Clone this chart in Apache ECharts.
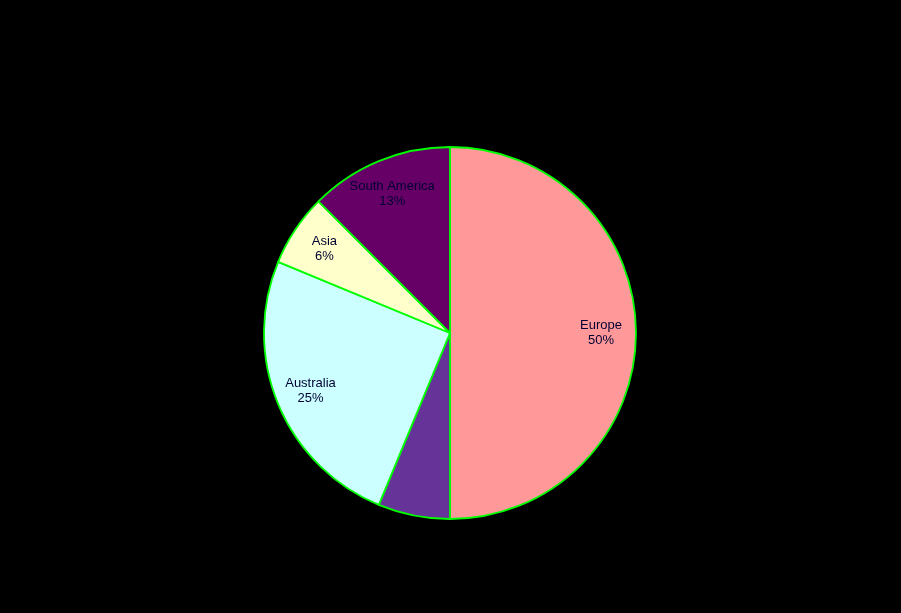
<!DOCTYPE html>
<html>
<head>
<meta charset="utf-8">
<script src="https://cdn.jsdelivr.net/npm/echarts@6/dist/echarts.min.js"></script>
<style>html,body{margin:0;padding:0;background:#000;}#c{width:901px;height:613px;}</style>
</head>
<body>
<div id="c"></div>
<script>
const categories = ['Europe', 'North America', 'Australia', 'Asia', 'South America'];
const values = [50, 6.25, 25, 6.25, 12.5];
const colors = ['#ff9999', '#663399', '#ccffff', '#ffffcc', '#660066'];
const showLabel = [true, false, true, true, true];

const chart = echarts.init(document.getElementById('c'));
const pieData = categories.map((n, i) => ({ name: n, value: values[i], itemStyle: { color: colors[i] } }));
const labelData = categories.map((n, i) => ({ name: n, value: values[i], label: { show: showLabel[i] } }));

chart.setOption({
  backgroundColor: '#000000',
  animation: false,
  series: [
    {
      type: 'pie',
      center: [450, 333],
      radius: 186,
      startAngle: 90,
      clockwise: true,
      label: { show: false },
      labelLine: { show: false },
      itemStyle: { borderColor: '#00ff00', borderWidth: 1.8 },
      emphasis: { disabled: true },
      data: pieData
    },
    {
      type: 'pie',
      center: [450, 333],
      radius: [110, 186],
      startAngle: 90,
      clockwise: true,
      silent: true,
      itemStyle: { color: 'rgba(0,0,0,0)', borderWidth: 0 },
      labelLine: { show: false },
      label: {
        position: 'inside',
        color: '#000033',
        fontFamily: 'Liberation Sans, Arial, sans-serif',
        fontSize: 13,
        lineHeight: 15,
        align: 'center',
        formatter: p => p.name + '\n' + Math.round(p.percent) + '%'
      },
      emphasis: { disabled: true },
      data: labelData
    }
  ]
});
</script>
</body>
</html>
